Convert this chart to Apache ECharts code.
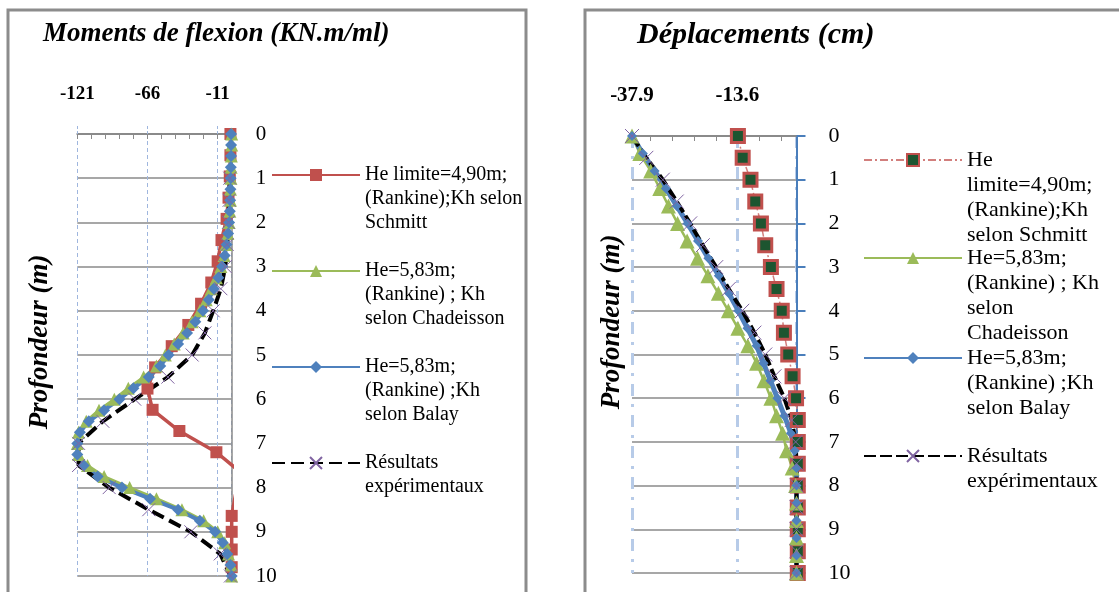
<!DOCTYPE html>
<html><head><meta charset="utf-8">
<script src="https://cdn.jsdelivr.net/npm/echarts@6/dist/echarts.min.js"></script>
<style>html,body{margin:0;padding:0;background:#fff}#c{width:1119px;height:592px}</style>
</head><body><div id="c"></div><script>
// ---------- DATA ----------
// Left chart: Moments de flexion (KN.m/ml) vs Profondeur (m)
const leftXTicks = [-121, -66, -11];
const leftDepthQ = [0,0.25,0.5,0.75,1,1.25,1.5,1.75,2,2.25,2.5,2.75,3,3.25,3.5,3.75,4,4.25,4.5,4.75,5,5.25,5.5,5.75,6,6.25,6.5,6.75,7,7.25,7.5,7.75,8,8.25,8.5,8.75,9,9.25,9.5,9.75,10];
const leftBalay = [-0.5,-0.5,-0.5,-0.7,-0.8,-1,-1.2,-1.5,-2,-2.8,-4,-5.5,-7.5,-10.5,-14,-18,-22.5,-28.5,-35,-42,-49.5,-56,-65,-77,-88,-100,-112,-119,-121,-121,-116,-105,-86,-64,-42,-25,-13,-7,-3.5,-1,0];
const leftChadeisson = [0,0,-0.3,-0.5,-0.6,-1,-1,-1.5,-2,-3,-4.5,-6,-8.5,-12,-16,-20,-25,-31,-38,-45,-52,-59,-69,-81,-92,-104,-114,-120,-121,-120,-113,-100,-80,-59,-39,-22,-11,-5.5,-2.5,-0.5,0];
const leftDepthSchmitt = [0,0.48,0.96,1.44,1.92,2.4,2.88,3.36,3.84,4.32,4.8,5.28,5.76,6.24,6.72,7.2,7.68,8.16,8.64,9.0,9.4,9.8];
const leftSchmitt = [-1,-1,-1.5,-2.5,-4,-8,-11,-16,-24,-34,-47,-60,-66,-62,-41,-12,8,3,0,0,0,0];
const leftDepthExp = [1,1.5,2,2.5,3,3.5,4,4.5,5,5.5,6,6.5,7,7.5,8,8.5,9,9.5,10];
const leftExp = [-1.5,-2,-2.5,-3.5,-5,-8.5,-14.5,-21,-31,-50,-76,-101,-120,-120,-96,-65,-32,-9,-1];

// Right chart: Déplacements (cm) vs Profondeur (m)
const rightXTicks = [-37.9, -13.6];
const rightMinorTicks = [-33.6,-28.6,-23.6,-18.6,-8.6,-3.6];
const rightDepthQ = [0,0.4,0.8,1.2,1.6,2,2.4,2.8,3.2,3.6,4,4.4,4.8,5.2,5.6,6,6.4,6.8,7.2,7.6,8,8.4,8.8,9.2,9.6,10];
const rightBalay = [-37.9,-35.4,-32.7,-30.1,-27.6,-25.1,-22.7,-20.3,-17.9,-15.6,-13.4,-11.3,-9.2,-7.6,-6,-4.4,-2.8,-1.3,-0.4,0,0,0,0,0,0,0];
const rightChadeisson = [-37.9,-36.1,-33.6,-31.5,-29.5,-27.4,-25.2,-22.8,-20.4,-18,-15.7,-13.5,-11.2,-9.2,-7.5,-5.9,-4.6,-3.2,-2.3,-1,-0.2,0,0,0,0,0];
const rightDepthHalf = [0,0.5,1,1.5,2,2.5,3,3.5,4,4.5,5,5.5,6,6.5,7,7.5,8,8.5,9,9.5,10];
const rightSchmitt = [-13.5,-12.4,-10.6,-9.5,-8.2,-7.2,-5.9,-4.6,-3.4,-2.9,-1.9,-0.9,-0.1,0.3,0.3,0.3,0.3,0.3,0.3,0.3,0.3];
const rightExp = [-37.9,-34.6,-30.8,-27.6,-24.5,-21.6,-18.5,-15.6,-12.5,-9.7,-7.2,-5.1,-2.8,-1.1,-0.2,0,0,0,0,0,0];

const depthTicks = [0,1,2,3,4,5,6,7,8,9,10];

const titles = ['Moments de flexion (KN.m/ml)', 'Déplacements (cm)'];
const yTitle = 'Profondeur (m)';
const leftLegendText = [
  'He limite=4,90m;\n(Rankine);Kh selon\nSchmitt',
  'He=5,83m;\n(Rankine) ; Kh\nselon Chadeisson',
  'He=5,83m;\n(Rankine) ;Kh\nselon Balay',
  'Résultats\nexpérimentaux'
];
const rightLegendText = [
  'He\nlimite=4,90m;\n(Rankine);Kh\nselon Schmitt',
  'He=5,83m;\n(Rankine) ; Kh\nselon\nChadeisson',
  'He=5,83m;\n(Rankine) ;Kh\nselon Balay',
  'Résultats\nexpérimentaux'
];

// ---------- BUILD ----------
const zip = (xs, ds) => xs.map((v, i) => [v, ds[i]]);
const SERIF = 'Liberation Serif';
const RED = '#c0504d', GREEN = '#9bbb59', BLUE = '#4f81bd', PURPLE = '#8064a2';
const XSYM = 'path://M0,0L10,10M10,0L0,10';
const GRIDC = '#8a8a8a';

// icon is aligned with the first text line: pad the label with blank lines before it
function legendFor(name, label, left, iconY, lh, fontSize, iw) {
  const n = label.split('\n').length;
  const padded = '\n'.repeat(n - 1) + label;
  return {
    data: [name], left: left, top: iconY - (2 * n - 1) * lh / 2,
    orient: 'vertical', padding: 0, itemWidth: iw, itemHeight: 15,
    selectedMode: false,
    formatter: () => padded,
    textStyle: { fontFamily: SERIF, fontSize: fontSize, lineHeight: lh, color: '#000' }
  };
}

const chart = echarts.init(document.getElementById('c'), null, { renderer: 'canvas' });

const option = {
  backgroundColor: '#fff',
  animation: false,
  title: [
    { text: titles[0], left: 43, top: 21, padding: 0,
      textStyle: { fontFamily: SERIF, fontStyle: 'italic', fontWeight: 'bold', fontSize: 27, color: '#000' } },
    { text: titles[1], left: 637, top: 20, padding: 0,
      textStyle: { fontFamily: SERIF, fontStyle: 'italic', fontWeight: 'bold', fontSize: 30, color: '#000' } }
  ],
  grid: [
    { left: 77.3, top: 134, width: 154.4, height: 442 },
    { left: 632, top: 136, width: 164.5, height: 437 }
  ],
  xAxis: [
    { type: 'value', gridIndex: 0, position: 'top', min: -121, max: 0, interval: 55,
      axisLine: { show: true, onZero: false, lineStyle: { color: GRIDC, width: 2 } },
      axisTick: { show: true, length: 9, lineStyle: { color: '#9fb6de', type: [3, 2] } },
      axisLabel: { margin: 30, showMaxLabel: false, fontFamily: SERIF, fontWeight: 'bold', fontSize: 19, color: '#000',
        formatter: v => (leftXTicks.indexOf(Math.round(v)) >= 0 ? String(Math.round(v)) : '') },
      splitLine: { show: true, lineStyle: { color: '#9fb6de', width: 1, type: [4, 3] } } },
    { type: 'value', gridIndex: 0, position: 'top', min: -121, max: 0, interval: 11,
      axisLine: { show: false }, axisLabel: { show: false }, splitLine: { show: false },
      axisTick: { show: true, inside: true, length: 5, lineStyle: { color: GRIDC, width: 1 } } },
    { type: 'value', gridIndex: 1, position: 'top', min: -37.9, max: 0, interval: 24.3,
      axisLine: { show: true, onZero: false, lineStyle: { color: GRIDC, width: 2 } },
      axisTick: { show: false },
      axisLabel: { margin: 30, showMaxLabel: false, fontFamily: SERIF, fontWeight: 'bold', fontSize: 21, color: '#000',
        formatter: v => (v < -1 ? v.toFixed(1) : '') },
      splitLine: { show: true, lineStyle: { color: '#b7cbe8', width: 3, type: [12, 8, 3, 8] } } },
    { type: 'value', gridIndex: 1, position: 'top', min: -37.9, max: 0,
      axisLine: { show: false }, axisLabel: { show: false }, splitLine: { show: false },
      axisTick: { show: true, inside: true, length: 5, customValues: rightMinorTicks, lineStyle: { color: GRIDC, width: 1 } } }
  ],
  yAxis: [
    { type: 'value', gridIndex: 0, inverse: true, position: 'right', min: 0, max: 10, interval: 1,
      axisLine: { show: true, onZero: false, lineStyle: { color: GRIDC, width: 1.5 } },
      axisTick: { show: false },
      axisLabel: { margin: 24, align: 'left', fontFamily: SERIF, fontSize: 21, color: '#000',
        formatter: v => (depthTicks.indexOf(v) >= 0 ? String(v) : '') },
      splitLine: { show: true, lineStyle: { color: GRIDC, width: 1.5 } } },
    { type: 'value', gridIndex: 1, inverse: true, position: 'right', min: 0, max: 10, interval: 1,
      axisLine: { show: true, onZero: false, lineStyle: { color: '#4a7ebb', width: 2 } },
      axisTick: { show: true, length: 9, lineStyle: { color: '#4a7ebb', width: 2 } },
      axisLabel: { margin: 32, align: 'left', fontFamily: SERIF, fontSize: 22, color: '#000',
        formatter: v => (depthTicks.indexOf(v) >= 0 ? String(v) : '') },
      splitLine: { show: true, lineStyle: { color: GRIDC, width: 1.5 } } }
  ],
  legend: [
    legendFor('L1', leftLegendText[0], 271, 175, 24, 20, 88),
    legendFor('L2', leftLegendText[1], 271, 271, 24, 20, 88),
    legendFor('L3', leftLegendText[2], 271, 367, 24, 20, 88),
    legendFor('L4', leftLegendText[3], 271, 463, 24, 20, 88),
    legendFor('R1', rightLegendText[0], 863, 160, 25, 22, 98),
    legendFor('R2', rightLegendText[1], 863, 258, 25, 22, 98),
    legendFor('R3', rightLegendText[2], 863, 358, 25, 22, 98),
    legendFor('R4', rightLegendText[3], 863, 456, 25, 22, 98)
  ],
  series: [
    { name: 'L1', type: 'line', xAxisIndex: 0, yAxisIndex: 0, clip: true, data: zip(leftSchmitt, leftDepthSchmitt),
      symbol: 'rect', symbolSize: 12, itemStyle: { color: RED }, lineStyle: { color: RED, width: 3.5 } },
    { name: 'L2', type: 'line', xAxisIndex: 0, yAxisIndex: 0, clip: false, data: zip(leftChadeisson, leftDepthQ),
      symbol: 'triangle', symbolSize: 13, itemStyle: { color: GREEN }, lineStyle: { color: GREEN, width: 3 } },
    { name: 'L3', type: 'line', xAxisIndex: 0, yAxisIndex: 0, clip: false, data: zip(leftBalay, leftDepthQ),
      symbol: 'diamond', symbolSize: 12, itemStyle: { color: BLUE }, lineStyle: { color: BLUE, width: 4 } },
    { name: 'L4', type: 'line', xAxisIndex: 0, yAxisIndex: 0, clip: false, data: zip(leftExp, leftDepthExp),
      symbol: XSYM, symbolSize: 13, itemStyle: { color: 'rgba(0,0,0,0)', borderColor: PURPLE, borderWidth: 1 },
      lineStyle: { color: '#000', width: 4, type: [13, 6] } },
    { name: 'R1', type: 'line', xAxisIndex: 2, yAxisIndex: 1, clip: false, data: zip(rightSchmitt, rightDepthHalf),
      symbol: 'rect', symbolSize: 13, itemStyle: { color: '#1d5530', borderColor: RED, borderWidth: 3 },
      lineStyle: { color: '#d27f7d', width: 1.5, type: [8, 3, 2, 3] } },
    { name: 'R2', type: 'line', xAxisIndex: 2, yAxisIndex: 1, clip: false, data: zip(rightChadeisson, rightDepthQ),
      symbol: 'triangle', symbolSize: 15, itemStyle: { color: GREEN }, lineStyle: { color: GREEN, width: 2.5 } },
    { name: 'R3', type: 'line', xAxisIndex: 2, yAxisIndex: 1, clip: false, data: zip(rightBalay, rightDepthQ),
      symbol: 'diamond', symbolSize: 10, itemStyle: { color: BLUE }, lineStyle: { color: BLUE, width: 5 } },
    { name: 'R4', type: 'line', xAxisIndex: 2, yAxisIndex: 1, clip: false, data: zip(rightExp, rightDepthHalf),
      symbol: XSYM, symbolSize: 14, itemStyle: { color: 'rgba(0,0,0,0)', borderColor: PURPLE, borderWidth: 1 },
      lineStyle: { color: '#000', width: 4, type: [12, 4] } }
  ],
  graphic: [
    { type: 'rect', shape: { x: 8, y: 10, width: 518, height: 620 }, style: { fill: 'none', stroke: '#8c8c8c', lineWidth: 3 }, silent: true, z: -1 },
    { type: 'rect', shape: { x: 585, y: 10, width: 620, height: 620 }, style: { fill: 'none', stroke: '#8c8c8c', lineWidth: 3 }, silent: true, z: -1 },
    { type: 'text', x: 40, y: 342, rotation: Math.PI / 2,
      style: { text: yTitle, fontFamily: SERIF, fontStyle: 'italic', fontWeight: 'bold', fontSize: 27, fill: '#000', textAlign: 'center', textVerticalAlign: 'middle' } },
    { type: 'text', x: 612, y: 322, rotation: Math.PI / 2,
      style: { text: yTitle, fontFamily: SERIF, fontStyle: 'italic', fontWeight: 'bold', fontSize: 27, fill: '#000', textAlign: 'center', textVerticalAlign: 'middle' } }
  ]
};
chart.setOption(option);
</script></body></html>
